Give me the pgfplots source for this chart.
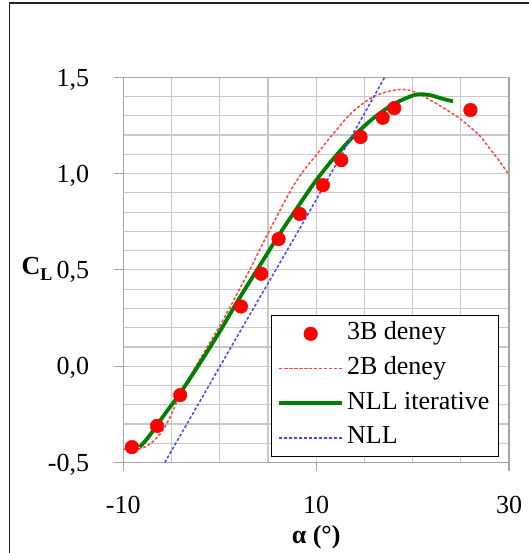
\documentclass[border=0pt]{standalone}
\usepackage{fontspec}
\setmainfont{Liberation Serif}
\usepackage{pgfplots}
\pgfplotsset{compat=1.18}

\definecolor{gridgray}{RGB}{200,200,200}
\definecolor{axgray}{RGB}{165,165,165}
\definecolor{ptred}{RGB}{255,0,0}
\definecolor{dashred}{RGB}{255,70,70}
\definecolor{nllgreen}{RGB}{0,128,0}
\definecolor{nllblue}{RGB}{70,70,255}

\pgfplotstableread{
x y
-9.1 -0.42
-6.5 -0.31
-4.1 -0.15
2.2 0.31
4.3 0.48
6.1 0.66
8.3 0.79
10.7 0.94
12.6 1.07
14.6 1.19
16.9 1.29
18.1 1.34
26.0 1.33
}\deneyB

\pgfplotstableread{
x y
-10 -0.43
-9 -0.432
-8 -0.425
-7 -0.395
-6 -0.34
-5.2 -0.27
-4.5 -0.19
-4 -0.135
-3 -0.045
-2 0.04
-1 0.125
0 0.21
1 0.30
2 0.395
3 0.49
4 0.59
5 0.69
6 0.785
7 0.88
8 0.965
9 1.035
10 1.095
11 1.16
12 1.22
13 1.28
14 1.33
15 1.37
16 1.40
17 1.42
18 1.432
19 1.437
20 1.428
21 1.405
22 1.377
23 1.347
24 1.316
25 1.282
26 1.24
27 1.195
28 1.13
29 1.065
30 0.993
}\deneyA

\pgfplotstableread{
x y
-8.3 -0.42
-7.5 -0.375
-6.5 -0.305
-5.5 -0.235
-4.1 -0.14
-2 0.02
0 0.18
2 0.35
4 0.51
6 0.67
8 0.82
10 0.965
12 1.09
14 1.20
16 1.29
18 1.36
20 1.405
21 1.412
22 1.405
23 1.39
24.2 1.375
}\nlliter

\pgfplotstableread{
x y
-5.7 -0.5
1.6 0.136
9.4 0.811
17.1 1.5
}\nll

\begin{document}
\fontsize{26bp}{31bp}\selectfont
\begin{tikzpicture}[x=1bp,y=1bp]
\path[use as bounding box] (0,0) rectangle (529,553);
\draw[line width=1.8bp, black!85] (9.5,-10) rectangle (545,549.7);
\begin{axis}[
  at={(123.3bp,90.5bp)}, anchor=south west,
  scale only axis, width=385.7bp, height=385.2bp,
  xmin=-10, xmax=30, ymin=-0.5, ymax=1.5,
  xtick={-10,10,30}, xticklabels={-10,10,30},
  minor xtick={-5,0,5,15,20,25},
  ytick={-0.5,0,0.5,1,1.5},
  yticklabels={{-0,5},{0,0},{0,5},{1,0},{1,5}},
  minor ytick={-0.4,-0.3,-0.2,-0.1,0.1,0.2,0.3,0.4,0.6,0.7,0.8,0.9,1.1,1.2,1.3,1.4},
  grid=both,
  major grid style={gridgray, line width=1.2bp},
  minor grid style={gridgray, line width=1.2bp},
  axis line style={axgray, line width=1.2bp},
  tick align=outside, xtick pos=bottom, ytick pos=left,
  major tick length=9bp, minor tick length=0pt,
  tick style={axgray, line width=1.2bp},
  every tick label/.append style={font=\fontsize{26bp}{31bp}\selectfont},
  yticklabel style={anchor=base east, inner sep=0pt, xshift=-25bp, yshift=-8.8bp},
  xticklabel style={anchor=base, inner sep=0pt, yshift=-42.5bp},
  xlabel={\textbf{α (°)}},
  xlabel style={at={(axis description cs:0.5,0)}, anchor=base, inner sep=0pt, yshift=-81.5bp, font=\fontsize{26bp}{31bp}\selectfont},
  ylabel={\textbf{C\raisebox{-6bp}{\fontsize{18bp}{21bp}\selectfont L}}},
  ylabel style={rotate=-90, at={(axis description cs:0,0.5)}, anchor=base west, inner sep=0pt, xshift=-101.8bp, yshift=-5bp, font=\fontsize{26bp}{31bp}\selectfont},
  legend style={at={(axis description cs:0.9741,0.0143)}, anchor=south east,
    draw=black, line width=1.4bp, fill=white, inner xsep=6bp, inner ysep=1bp,
    font=\fontsize{26bp}{31bp}\selectfont,
    nodes={inner xsep=3bp, inner ysep=5bp, text height=0.7em, text depth=0.25em, anchor=west},
    row sep=0pt},
  legend cell align=left,
  legend image code/.code={\draw[mark repeat=2,mark phase=2,#1] plot coordinates {(0bp,0bp) (31.5bp,0bp) (63bp,0bp)};},
]
\addplot[only marks, mark=*, mark size=6.8bp, color=ptred, mark options={fill=ptred, draw=ptred, line width=0.5bp}] table {\deneyB};
\addlegendentry{3B deney}
\addplot[dashred, line width=1.5bp, dash pattern=on 3bp off 2bp, smooth, tension=0.5, mark=none] table {\deneyA};
\addlegendentry{2B deney}
\addplot[nllgreen, line width=3.8bp, smooth, tension=0.5, mark=none] table {\nlliter};
\addlegendentry{NLL iterative}
\addplot[nllblue, line width=1.5bp, dash pattern=on 3bp off 2bp, smooth, tension=0.3, mark=none] table {\nll};
\addlegendentry{NLL}
\end{axis}
\end{tikzpicture}
\end{document}
